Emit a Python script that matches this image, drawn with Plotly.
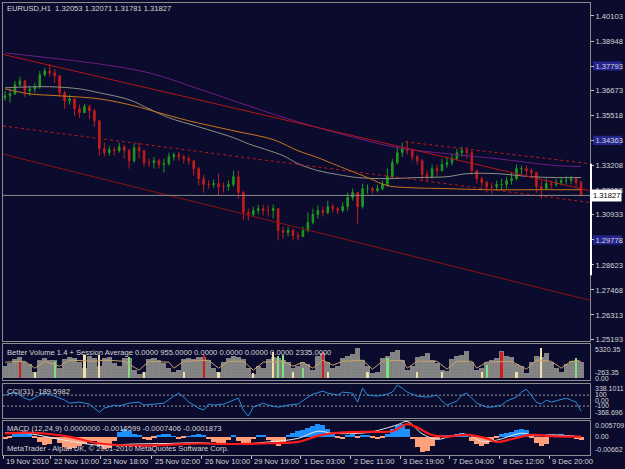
import plotly.graph_objects as go
from plotly.subplots import make_subplots

# ---------------- data ----------------
first_open = 1.3633
close = [1.3642, 1.3651, 1.3693, 1.3711, 1.3665, 1.3674, 1.3684, 1.3739, 1.3757, 1.3748,
         1.3734, 1.3656, 1.3619, 1.3628, 1.3582, 1.3564, 1.3592, 1.3573, 1.3527, 1.3398,
         1.3380, 1.3394, 1.3389, 1.3407, 1.3389, 1.3343, 1.3403, 1.3389, 1.3334, 1.3334,
         1.3343, 1.3325, 1.3329, 1.3361, 1.3371, 1.3361, 1.3352, 1.3343, 1.3306, 1.3260,
         1.3233, 1.3233, 1.3237, 1.3223, 1.3223, 1.3233, 1.3269, 1.3196, 1.3104, 1.3095,
         1.3113, 1.3122, 1.3113, 1.3113, 1.3122, 1.3021, 1.3012, 1.3021, 1.2998, 1.2993,
         1.3021, 1.3058, 1.3095, 1.3113, 1.3104, 1.3131, 1.3122, 1.3113, 1.3131, 1.3173,
         1.3196, 1.3131, 1.3214, 1.3214, 1.3205, 1.3214, 1.3233, 1.3269, 1.3334, 1.3380,
         1.3398, 1.3389, 1.3361, 1.3343, 1.3279, 1.3269, 1.3306, 1.3297, 1.3325, 1.3334,
         1.3352, 1.3380, 1.3389, 1.3380, 1.3297, 1.3260, 1.3242, 1.3223, 1.3223, 1.3233,
         1.3233, 1.3251, 1.3260, 1.3306, 1.3306, 1.3297, 1.3288, 1.3223, 1.3214, 1.3237,
         1.3233, 1.3242, 1.3251, 1.3251, 1.3260, 1.3242, 1.3183]
high = [1.3665, 1.3674, 1.3711, 1.3730, 1.3716, 1.3688, 1.3702, 1.3757, 1.3771, 1.3789,
        1.3766, 1.3739, 1.3665, 1.3647, 1.3628, 1.3601, 1.3605, 1.3601, 1.3582, 1.3527,
        1.3426, 1.3412, 1.3407, 1.3426, 1.3417, 1.3398, 1.3421, 1.3426, 1.3393, 1.3352,
        1.3361, 1.3352, 1.3352, 1.3380, 1.3380, 1.3384, 1.3371, 1.3366, 1.3343, 1.3315,
        1.3279, 1.3251, 1.3256, 1.3283, 1.3242, 1.3251, 1.3297, 1.3297, 1.3205, 1.3122,
        1.3131, 1.3140, 1.3140, 1.3136, 1.3140, 1.3122, 1.3039, 1.3039, 1.3030, 1.3012,
        1.3039, 1.3104, 1.3122, 1.3136, 1.3131, 1.3159, 1.3145, 1.3131, 1.3150, 1.3196,
        1.3214, 1.3196, 1.3237, 1.3233, 1.3223, 1.3233, 1.3251, 1.3306, 1.3352, 1.3407,
        1.3426, 1.3435, 1.3398, 1.3371, 1.3352, 1.3297, 1.3325, 1.3325, 1.3352, 1.3361,
        1.3375, 1.3398, 1.3407, 1.3407, 1.3389, 1.3297, 1.3269, 1.3251, 1.3242, 1.3251,
        1.3260, 1.3269, 1.3288, 1.3325, 1.3320, 1.3320, 1.3306, 1.3288, 1.3251, 1.3260,
        1.3251, 1.3260, 1.3269, 1.3274, 1.3274, 1.3269, 1.3251]
low = [1.3619, 1.3610, 1.3646, 1.3684, 1.3637, 1.3642, 1.3656, 1.3674, 1.3730, 1.3730,
       1.3702, 1.3637, 1.3582, 1.3601, 1.3550, 1.3541, 1.3564, 1.3536, 1.3499, 1.3366,
       1.3361, 1.3366, 1.3366, 1.3380, 1.3352, 1.3306, 1.3334, 1.3352, 1.3315, 1.3315,
       1.3306, 1.3306, 1.3288, 1.3320, 1.3343, 1.3343, 1.3329, 1.3325, 1.3274, 1.3228,
       1.3196, 1.3214, 1.3219, 1.3182, 1.3196, 1.3205, 1.3223, 1.3168, 1.3067, 1.3067,
       1.3085, 1.3095, 1.3090, 1.3085, 1.3076, 1.2975, 1.2984, 1.2993, 1.2975, 1.2975,
       1.2993, 1.3012, 1.3049, 1.3076, 1.3085, 1.3095, 1.3104, 1.3095, 1.3104, 1.3113,
       1.3159, 1.3053, 1.3122, 1.3191, 1.3191, 1.3196, 1.3205, 1.3223, 1.3260, 1.3325,
       1.3361, 1.3371, 1.3343, 1.3325, 1.3251, 1.3246, 1.3260, 1.3269, 1.3292, 1.3311,
       1.3320, 1.3343, 1.3361, 1.3352, 1.3279, 1.3237, 1.3223, 1.3196, 1.3191, 1.3205,
       1.3205, 1.3214, 1.3233, 1.3251, 1.3279, 1.3274, 1.3260, 1.3196, 1.3168, 1.3214,
       1.3214, 1.3223, 1.3228, 1.3233, 1.3233, 1.3223, 1.3178]

volume = [1900, 2370, 2990, 3300, 2530, 2220, 980, 2840, 3150, 2840,
          2840, 1600, 2990, 3300, 3150, 2530, 1600, 3460, 3150, 1900,
          3150, 3300, 2370, 1900, 3150, 3150, 1290, 670, 980, 2990,
          3150, 2840, 2370, 1600, 980, 1290, 2990, 3150, 2990, 3300,
          3300, 2840, 1600, 980, 2530, 3150, 3460, 3300, 2990, 1600,
          670, 1900, 1600, 2990, 3300, 3150, 2840, 2530, 1600, 1900,
          2530, 2220, 1290, 3460, 3920, 2530, 1600, 1900, 3150, 3460,
          3770, 4700, 2840, 1900, 820, 980, 3150, 3460, 4080, 4390,
          2840, 1290, 1900, 3300, 3460, 3920, 2840, 2370, 1290, 1130,
          2990, 3460, 3610, 4230, 2530, 1290, 1600, 2530, 2840, 3150,
          4230, 3460, 3300, 2220, 1900, 820, 2530, 3460, 3300, 3920,
          2530, 1600, 980, 2220, 2680, 2840, 2530]
vol_special_idx = [3, 6, 10, 16, 19, 25, 28, 36, 40, 43, 50, 54, 55, 56, 58, 60, 64, 65,
                   73, 77, 83, 88, 96, 97, 100, 103, 108, 115]
vol_special_val = [2530, 980, 2530, 3610, 3610, 3300, 980, 980, 3610, 980, 820, 4080, 3460,
                   3610, 980, 1600, 4080, 980, 980, 3150, 980, 980, 980, 2060, 4080, 980,
                   4700, 3150]
vol_special_kind = ['climax', 'low', 'churn', 'low', 'low', 'churn', 'low', 'low', 'climax',
                    'low', 'low', 'low', 'churn', 'churn', 'low', 'churn', 'climax', 'low',
                    'low', 'churn', 'low', 'low', 'low', 'churn', 'climax', 'low', 'low',
                    'churn']
avg_bars = [0, 4, 6, 8, 11, 13, 18, 20, 24, 27, 29, 33, 34, 36, 41, 43, 45, 48, 50, 52,
            56, 58, 60, 62, 64, 66, 68, 72, 74, 76, 80, 81, 83, 87, 89, 91, 94, 95, 97, 102,
            105, 107, 110, 112, 114, 116]
avg_vals = [2530, 2680, 1600, 2680, 1900, 2840, 2680, 2840, 2680, 1290, 2680, 2530, 1600,
            2680, 2840, 1600, 2680, 2680, 1290, 2530, 2680, 1900, 2530, 1600, 2840, 2060,
            2680, 2840, 1440, 2680, 2840, 1600, 2680, 2680, 1440, 2680, 2680, 1600, 2530,
            2680, 1440, 2840, 2680, 1600, 2680, 2680]

cci_bars = [0, 2, 4, 5, 7, 8, 10, 12, 13, 15, 17, 18, 19, 20, 22, 23, 25, 27, 28, 30,
            32, 34, 35, 36, 37, 39, 40, 41, 42, 44, 46, 47, 48, 49, 50, 52, 53, 55, 57, 59,
            61, 62, 64, 65, 67, 68, 70, 71, 72, 73, 75, 77, 78, 79, 80, 81, 83, 85, 87, 88,
            89, 91, 92, 93, 94, 95, 97, 98, 100, 101, 103, 104, 105, 106, 107, 108, 109, 110,
            112, 113, 114, 115, 116]
cci_vals = [100, 155, 45, 9, 100, 136, 82, 9, -46, -27, -64, -137, -210, -137, -82, -100,
            -46, -27, -82, -64, -46, 82, 136, 64, -27, -137, -173, -64, -82, -64, 9, 45,
            -173, -282, -118, -46, -82, -118, -82, -64, 64, 118, 173, 136, 100, 155, 136,
            -27, 227, 100, 82, 118, 155, 282, 227, 155, 82, 64, 100, -9, -82, -9, 100, 136,
            45, -46, -118, -118, -82, -9, 64, 155, 209, 100, -27, -64, 9, -27, 27, 45, 9,
            -27, -190]
cci_levels = [100, -100]

macd_hist = [-0.0008, -0.0005, 0.0010, 0.0018, 0.0022, 0.0014, -0.0006, -0.0022, -0.0032, -0.0028,
             -0.0010, -0.0025, -0.0040, -0.0047, -0.0044, -0.0036, -0.0028, -0.0020, -0.0015, -0.0035,
             -0.0047, -0.0042, -0.0018, 0.0018, 0.0030, 0.0022, 0.0010, 0.0004, -0.0008, -0.0012,
             -0.0006, 0.0004, 0.0010, 0.0012, 0.0002, -0.0008, -0.0006, 0.0002, 0.0008, 0.0010,
             0.0004, -0.0008, -0.0020, -0.0026, -0.0024, -0.0012, 0.0006, -0.0018, -0.0027, -0.0024,
             -0.0010, 0.0005, 0.0004, -0.0012, -0.0022, -0.0035, -0.0028, 0.0008, 0.0016, 0.0022,
             0.0028, 0.0036, 0.0044, 0.0049, 0.0046, 0.0030, 0.0012, -0.0006, -0.0008, 0.0006,
             0.0010, -0.0004, 0.0008, 0.0006, -0.0006, -0.0008, -0.0004, 0.0010, 0.0030, 0.0045,
             0.0049, 0.0032, -0.0010, -0.0040, -0.0060, -0.0055, -0.0035, -0.0010, 0.0005, 0.0006,
             0.0008, 0.0010, 0.0015, 0.0006, -0.0015, -0.0030, -0.0035, -0.0030, -0.0018, -0.0004,
             0.0010, 0.0016, 0.0020, 0.0026, 0.0030, 0.0026, -0.0006, -0.0025, -0.0035, -0.0030,
             0.0004, 0.0008, 0.0010, 0.0008, 0.0004, -0.0008, -0.0012]
signal_bars = [0, 6, 13, 19, 26, 33, 39, 46, 53, 59, 63, 66, 73, 78, 81, 83, 86, 89, 93, 97,
               99, 103, 106, 110, 116]
signal_vals = [0.0012, 0.0014, -0.0002, -0.0028, -0.0036, -0.0033, -0.0028, -0.0030, -0.0027,
               -0.0022, 0.0002, 0.0012, 0.0018, 0.0020, 0.0048, 0.0035, 0.0005, -0.0001, 0.0006,
               -0.0008, -0.0022, -0.0006, 0.0006, 0.0001, -0.0001]
macd_line_bars = [0, 5, 12, 19, 26, 33, 39, 46, 53, 59, 63, 66, 73, 79, 81, 84, 87, 90, 93, 96,
                  99, 104, 107, 110, 116]
macd_line_vals = [0.0015, 0.0010, -0.0015, -0.0035, -0.0030, -0.0028, -0.0025, -0.0032, -0.0022,
                  -0.0008, 0.0020, 0.0012, 0.0015, 0.0045, 0.0058, 0.0010, -0.0012, 0.0002, 0.0008,
                  -0.0020, -0.0015, 0.0012, 0.0002, 0.0006, -0.0002]

ma_gray_bars = [0, 9, 15, 19, 25, 29, 33, 39, 46, 49, 56, 59, 63, 67, 71, 77, 83, 89, 93, 99,
                106, 111, 116]
ma_gray_vals = [1.3679, 1.3684, 1.3674, 1.3656, 1.3624, 1.3582, 1.3541, 1.3499, 1.3449, 1.3421,
                1.3366, 1.3329, 1.3297, 1.3279, 1.3265, 1.3260, 1.3265, 1.3269, 1.3283, 1.3283,
                1.3269, 1.3265, 1.3265]
ma_orange_bars = [0, 5, 11, 19, 26, 31, 37, 46, 54, 59, 63, 66, 73, 77, 81, 89, 97, 107, 116]
ma_orange_vals = [1.3674, 1.3651, 1.3642, 1.3628, 1.3596, 1.3564, 1.3527, 1.3481, 1.3440, 1.3389,
                  1.3357, 1.3329, 1.3265, 1.3228, 1.3219, 1.3214, 1.3209, 1.3209, 1.3209]
ma_purple_bars = [0, 9, 19, 29, 39, 49, 57, 69, 79, 89, 99, 111, 116]
ma_purple_vals = [1.3840, 1.3817, 1.3789, 1.3748, 1.3674, 1.3596, 1.3536, 1.3458, 1.3403,
                  1.3375, 1.3352, 1.3320, 1.3316]

trend_upper_x = [-0.4, 117.8]
trend_upper_y = [1.3833, 1.3204]
trend_lower_x = [-0.4, 117.8]
trend_lower_y = [1.3373, 1.2699]
trend_mid_x = [-0.4, 117.8]
trend_mid_y = [1.3503, 1.3150]
trend_top_x = [80.6, 117.8]
trend_top_y = [1.3430, 1.3329]

price_ticks = [1.40103, 1.38948, 1.37793, 1.36673, 1.35518, 1.34363, 1.33208, 1.32053,
               1.30933, 1.29778, 1.28623, 1.27468, 1.26313, 1.25193]
highlight_prices = [1.37793, 1.34363, 1.29778]
bid_price = 1.31827
axis_mark_range = [1.3329, 1.2814]

date_labels = ['19 Nov 2010', '22 Nov 10:00', '23 Nov 18:00', '25 Nov 02:00', '26 Nov 10:00',
               '29 Nov 19:00', '1 Dec 03:00', '2 Dec 11:00', '3 Dec 19:00', '7 Dec 04:00',
               '8 Dec 12:00', '9 Dec 20:00']
date_bars = [-0.4, 9.2, 19.2, 29.6, 39.6, 49.6, 59.6, 69.6, 79.6, 89.6, 99.6, 109.6]

# ---------------- figure ----------------
W, H = 625, 469
ML, MR, MT, MB = 2, 32, 2, 14
PW, PH = W - ML - MR, H - MT - MB


def py(ypix):
    return (H - MB - ypix) / PH


def px(xpix):
    return (xpix - ML) / PW


BG = '#0b0b2e'
FRAME = '#8c8c8c'
TXT = '#d6d6d6'
FONT = 'Liberation Sans'
FS = 7.6
UP = '#1f9a1f'
DN = '#c41c1c'

bars = list(range(len(close)))
opens = [first_open] + close[:-1]

fig = make_subplots(rows=4, cols=1, shared_xaxes=True, vertical_spacing=0)

# main panel lines
fig.add_trace(go.Scatter(x=ma_purple_bars, y=ma_purple_vals, mode='lines', line_shape='spline',
                         line=dict(color='#6c1d86', width=1)), row=1, col=1)
fig.add_trace(go.Scatter(x=ma_gray_bars, y=ma_gray_vals, mode='lines', line_shape='spline',
                         line=dict(color='#8e8e84', width=1)), row=1, col=1)
fig.add_trace(go.Scatter(x=ma_orange_bars, y=ma_orange_vals, mode='lines', line_shape='spline',
                         line=dict(color='#c8761e', width=1)), row=1, col=1)
fig.add_trace(go.Scatter(x=trend_upper_x, y=trend_upper_y, mode='lines',
                         line=dict(color='#b41616', width=1)), row=1, col=1)
fig.add_trace(go.Scatter(x=trend_lower_x, y=trend_lower_y, mode='lines',
                         line=dict(color='#8c1212', width=1)), row=1, col=1)
fig.add_trace(go.Scatter(x=trend_mid_x, y=trend_mid_y, mode='lines',
                         line=dict(color='#c01818', width=1, dash='3px,3px')), row=1, col=1)
fig.add_trace(go.Scatter(x=trend_top_x, y=trend_top_y, mode='lines',
                         line=dict(color='#c01818', width=1, dash='3px,3px')), row=1, col=1)

fig.add_trace(go.Candlestick(
    x=bars, open=opens, high=high, low=low, close=close,
    increasing=dict(line=dict(color=UP, width=1), fillcolor=UP),
    decreasing=dict(line=dict(color=DN, width=1), fillcolor=DN),
    whiskerwidth=0, hoverinfo='skip'), row=1, col=1)

# volume panel
fig.add_trace(go.Bar(x=bars, y=volume, width=1.02,
                     marker=dict(color='#858585', line=dict(width=0),
                                 pattern=dict(shape='.', fgcolor='#5e5e5e', size=3,
                                              solidity=0.12, fillmode='overlay'))),
              row=2, col=1)
kind_color = {'climax': '#d41a1a', 'low': '#f3deaa', 'churn': '#7fe07f'}
fig.add_trace(go.Bar(x=vol_special_idx, y=vol_special_val, width=0.45,
                     marker=dict(color=[kind_color[k] for k in vol_special_kind],
                                 line=dict(width=0))), row=2, col=1)
fig.add_trace(go.Scatter(x=avg_bars, y=avg_vals, mode='lines',
                         line=dict(color='#c9a26a', width=1)), row=2, col=1)

# CCI panel
for lv in cci_levels:
    fig.add_trace(go.Scatter(x=[-0.4, 117.8], y=[lv, lv], mode='lines',
                             line=dict(color='#9a9a9a', width=1, dash='2px,2px')), row=3, col=1)
fig.add_trace(go.Scatter(x=cci_bars, y=cci_vals, mode='lines',
                         line=dict(color='#2a90d8', width=1)), row=3, col=1)

# MACD panel
fig.add_trace(go.Bar(x=bars, y=macd_hist, width=1.02,
                     marker=dict(color=['#1e8fff' if v >= 0 else '#ffa07a' for v in macd_hist],
                                 line=dict(width=0))), row=4, col=1)
fig.add_trace(go.Scatter(x=macd_line_bars, y=macd_line_vals, mode='lines', line_shape='spline',
                         line=dict(color='#e8e8e8', width=1)), row=4, col=1)
fig.add_trace(go.Scatter(x=signal_bars, y=signal_vals, mode='lines', line_shape='spline',
                         line=dict(color='#ff1a1a', width=2.2)), row=4, col=1)

# axes
xr = [-0.4, 117.8]
for r in range(1, 5):
    fig.update_xaxes(range=xr, showgrid=False, zeroline=False, showline=True, mirror=True,
                     linecolor=FRAME, linewidth=1, showticklabels=False, ticks='',
                     rangeslider_visible=False, row=r, col=1)
fig.update_xaxes(ticks='outside', ticklen=3, tickcolor='#c0c0c0', tickvals=date_bars,
                 row=4, col=1)

domains = [[py(341), 1.0], [py(380), py(344)], [py(417.5), py(383.5)], [0.0, py(420.5)]]
ranges = [[1.25101, 1.40701], [-263.35, 5320.35], [-309, 309], [-0.0073, 0.00616]]
for r in range(1, 5):
    fig.update_yaxes(domain=domains[r - 1], range=ranges[r - 1], side='right', showgrid=False,
                     zeroline=False, showline=True, mirror=True, linecolor=FRAME, linewidth=1,
                     showticklabels=False, ticks='', row=r, col=1)
fig.update_yaxes(tickvals=price_ticks, ticktext=['%.5f' % v for v in price_ticks],
                 showticklabels=True, ticks='outside', ticklen=3, tickcolor='#c0c0c0',
                 tickfont=dict(family=FONT, size=FS, color=TXT), row=1, col=1)

shapes = []
for hp in highlight_prices:
    shapes.append(dict(type='rect', xref='paper', yref='y', x0=px(596), x1=px(625),
                       y0=hp - 0.0021, y1=hp + 0.0021, fillcolor='#24248e', line=dict(width=0),
                       layer='below'))
shapes.append(dict(type='line', xref='paper', yref='y', x0=0, x1=1, y0=bid_price, y1=bid_price,
                   line=dict(color='#8a8a8a', width=1)))
shapes.append(dict(type='line', xref='paper', yref='y', x0=px(594), x1=px(594),
                   y0=axis_mark_range[0], y1=axis_mark_range[1],
                   line=dict(color='#ffffff', width=2)))
fig.update_layout(shapes=shapes)

ann = []


def label(text, xpix, ypix, color=TXT, size=FS, **kw):
    ann.append(dict(text=text, xref='paper', yref='paper', x=px(xpix), y=py(ypix),
                    xanchor='left', yanchor='middle', showarrow=False,
                    font=dict(family=FONT, size=size, color=color), **kw))


label('EURUSD,H1  1.32053 1.32071 1.31781 1.31827', 4, 7.5)
label('Better Volume 1.4 + Session Average 0.0000 955.0000 0.0000 0.0000 0.0000 0.0000 2335.0000', 4, 352)
label('CCI(31) -189.5982', 4, 391)
label('MACD (12,24,9) 0.0000000 -0.0016599 -0.0007406 -0.0001873', 4, 428)
label('MetaTrader - Alpari UK, \u00a9 2001-2010 MetaQuotes Software Corp.', 4, 448)

SF = 7.0
label('5320.35', 596, 349, size=SF)
label('-263.35', 596, 372.5, size=SF)
label('0.00', 596, 378, size=SF)
label('338.1011', 596, 388.5, size=SF)
label('100', 596, 394.5, size=SF)
label('0.00', 596, 400, size=SF)
label('-100', 596, 405.5, size=SF)
label('-368.696', 596, 412.5, size=SF)
label('0.005709', 596, 425, size=SF)
label('0.00', 596, 436, size=SF)
label('-0.00662', 596, 449, size=SF)

for t, b in zip(date_labels, date_bars):
    ann.append(dict(text=t, xref='x4', yref='paper', x=b, y=py(462), xanchor='left',
                    yanchor='middle', xshift=1, showarrow=False,
                    font=dict(family=FONT, size=FS, color=TXT)))

ann.append(dict(text='%.5f' % bid_price, xref='paper', yref='y', x=px(594), y=bid_price,
                xanchor='left', yanchor='middle', showarrow=False, bgcolor='#ffffff',
                borderpad=1, font=dict(family=FONT, size=FS, color='#000000')))

fig.update_layout(
    width=W, height=H, autosize=False,
    margin=dict(l=ML, r=MR, t=MT, b=MB, pad=0),
    paper_bgcolor=BG, plot_bgcolor=BG,
    showlegend=False, barmode='overlay', bargap=0, boxgap=0.55,
    font=dict(family=FONT, size=FS, color=TXT),
    annotations=ann,
    hovermode=False,
)

fig.write_html('out.html')
